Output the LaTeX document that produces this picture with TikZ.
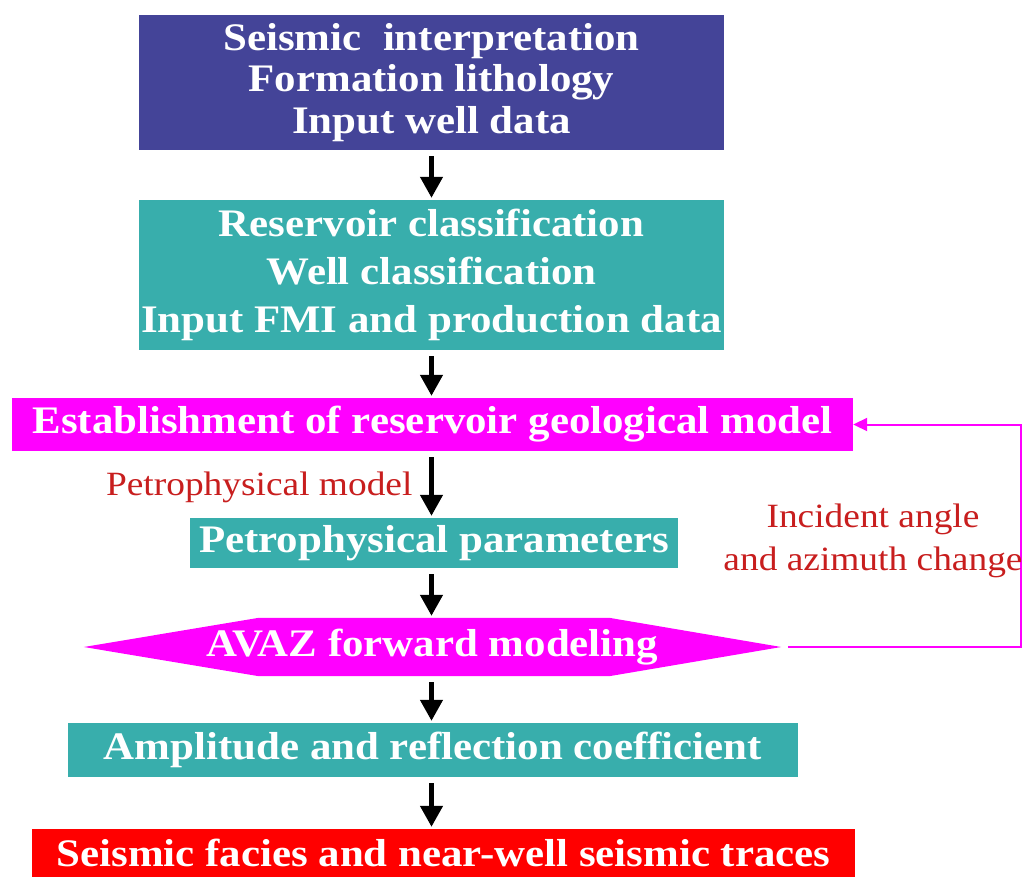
\documentclass[tikz,border=0pt]{standalone}
\usepackage{fontspec}
\setmainfont{Liberation Serif}[FakeStretch=1.1]
\usetikzlibrary{arrows.meta,positioning,backgrounds}
\definecolor{indigo}{RGB}{68,68,152}
\definecolor{lagoon}{RGB}{56,174,172}
\definecolor{fuchsia}{RGB}{255,0,255}
\definecolor{scarlet}{RGB}{255,0,0}
\definecolor{rust}{RGB}{200,30,30}
\tikzset{
  >={Triangle[length=21pt,width=22pt]},
  box/.style={fill=#1,text=white,inner sep=0pt,align=center,
    font=\fontsize{39}{41.5}\selectfont\bfseries},
  box/.default=lagoon,
  hexbox/.style={text=white,inner sep=0pt,align=center,
    font=\fontsize{39}{41.5}\selectfont\bfseries},
  flow/.style={->,line width=4.5pt,draw=black,shorten <=6pt,shorten >=2pt},
  feedback/.style={-{Triangle[length=14pt,width=13pt]},line width=2pt,draw=fuchsia},
  tag/.style={text=rust,font=\fontsize{34}{43}\selectfont,align=center},
}

\begin{document}
\begin{tikzpicture}[x=1pt,y=-1pt]
  \useasboundingbox (0,0) rectangle (1025,877);
  % boxes, top to bottom
  \node[box=indigo,minimum width=585pt,minimum height=135pt] (input) at (431.5,82.5)
    {Seismic~ interpretation\\Formation lithology\\Input well data};
  \node[box,minimum width=585pt,minimum height=150pt,font=\fontsize{39}{48}\selectfont\bfseries] (classes) at (431.5,275)
    {Reservoir classification\\Well classification\\Input FMI and production data};
  \node[box=fuchsia,minimum width=841pt,minimum height=53pt] (geomodel) at (432.5,424.5)
    {Establishment of reservoir geological model};
  \node[box,minimum width=488pt,minimum height=50pt] (params) at (434,543) {Petrophysical parameters};
  \node[hexbox,minimum width=697pt,minimum height=58pt] (avaz) at (432.5,647) {AVAZ forward modeling};
  \node[box,minimum width=730pt,minimum height=54pt] (amplitude) at (433,750)
    {Amplitude and reflection coefficient};
  \node[box=scarlet,minimum width=823pt,minimum height=48pt] (traces) at (443.5,853)
    {Seismic facies and near-well seismic traces};
  \begin{scope}[on background layer]
    \fill[white] (0,0) rectangle (1025,877);
    \fill[fuchsia] (avaz.west) -- ([xshift=175pt]avaz.north west) -- ([xshift=-172pt]avaz.north east)
      -- (avaz.east) -- ([xshift=-172pt]avaz.south east) -- ([xshift=175pt]avaz.south west) -- cycle;
  \end{scope}
  % arrows
  \draw[flow] (input.south) -- (input.south |- classes.north);
  \draw[flow] (classes.south) -- (classes.south |- geomodel.north);
  \draw[flow] (geomodel.south -| input.south) -- (input.south |- params.north);
  \draw[flow] (params.south -| input.south) -- (input.south |- avaz.north);
  \draw[flow] (avaz.south -| input.south) -- (input.south |- amplitude.north);
  \draw[flow] (amplitude.south -| input.south) -- (input.south |- traces.north);
  \draw[feedback] ([xshift=7pt]avaz.east) -- ++(233,0) |- (geomodel.east);
  % labels
  \node[tag,anchor=east] (petromodel) at (416,487) {Petrophysical model};
  \node[tag] (incident) at (873,541) {Incident angle\\and azimuth change};
\end{tikzpicture}
\end{document}
